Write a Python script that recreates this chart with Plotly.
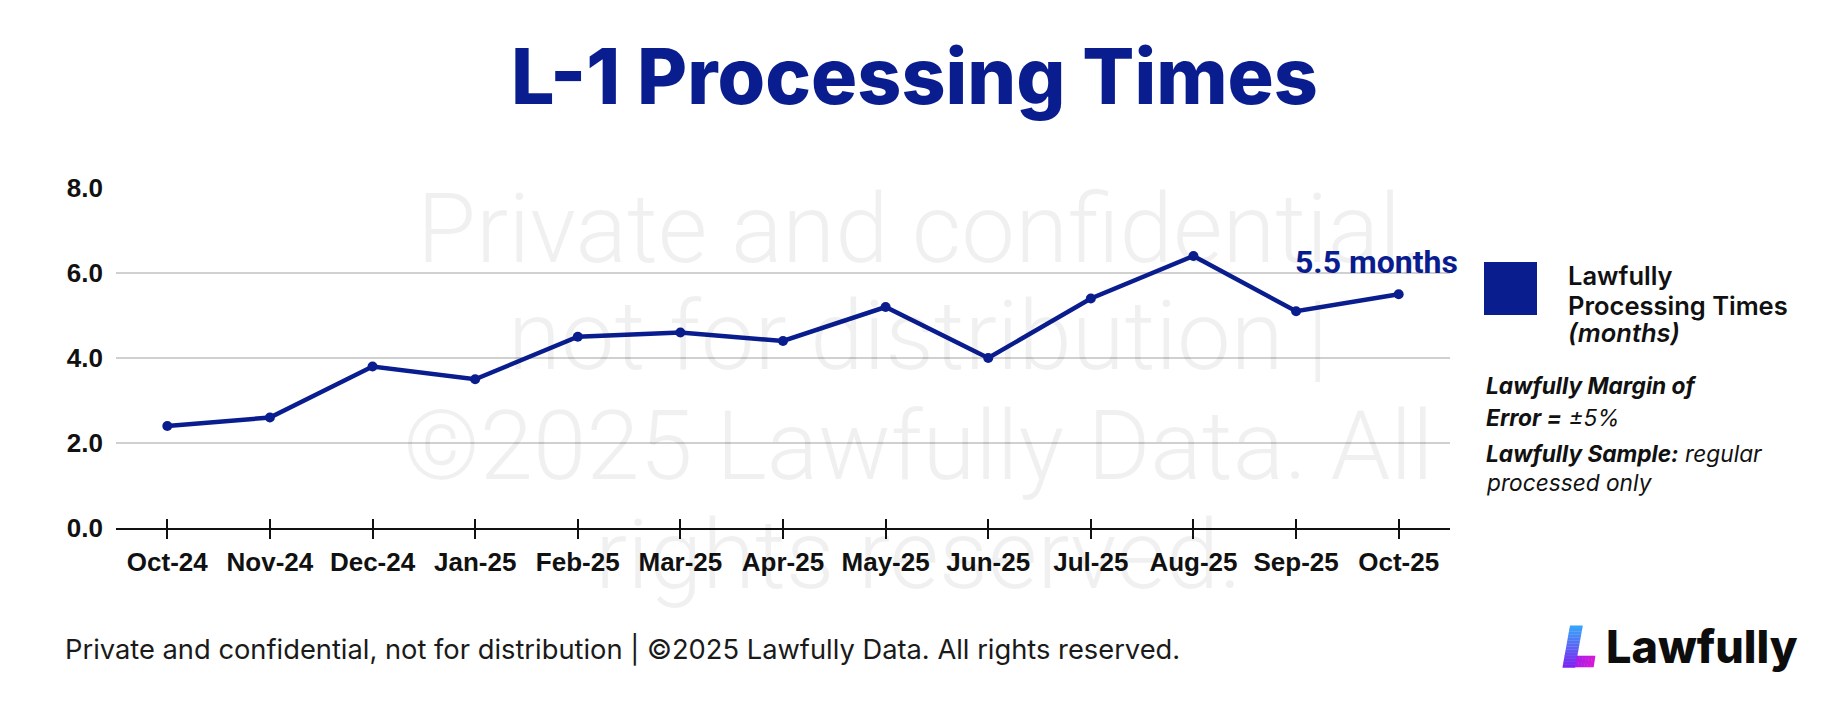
import plotly.graph_objects as go

# ---------------- data ----------------
months = ["Oct-24", "Nov-24", "Dec-24", "Jan-25", "Feb-25", "Mar-25", "Apr-25",
          "May-25", "Jun-25", "Jul-25", "Aug-25", "Sep-25", "Oct-25"]
values = [2.4, 2.6, 3.8, 3.5, 4.5, 4.6, 4.4, 5.2, 4.0, 5.4, 6.4, 5.1, 5.5]
y_ticks = [0, 2, 4, 6, 8]

title_text = "L-1 Processing Times"
last_label = "5.5 months"
legend_lines = ["Lawfully", "Processing Times", "<i>(months)</i>"]
notes = [
    "<b><i>Lawfully Margin of</i></b>",
    "<b><i>Error =</i></b> <i>±5%</i>",
    "<b><i>Lawfully Sample:</i></b> <i>regular</i>",
    "<i>processed only</i>",
]
footer_text = "Private and confidential, not for distribution | ©2025 Lawfully Data. All rights reserved."
watermark_lines = ["Private and confidential,", "not for distribution |",
                   "©2025 Lawfully Data. All", "rights reserved."]

# ---------------- layout geometry (page pixels) ----------------
OFF = 8                      # default page margin around the figure
WF, HF = 1824, 690           # figure size (fits the window with the page margin)
L, R, T, B = 116, 1450, 188, 528   # plot area in page pixels
NAVY = "#0a1d8f"
TICKFONT = dict(family="Arial, Liberation Sans, sans-serif", size=26, color="#111111", weight=700)


def px(x):
    return (x - L) / (R - L)


def py(y):
    return (B - y) / (B - T)


fig = go.Figure()
fig.add_trace(go.Scatter(
    x=months, y=values, mode="lines+markers",
    line=dict(color=NAVY, width=4.5),
    marker=dict(size=10, color=NAVY),
    cliponaxis=False, hoverinfo="skip", showlegend=False,
))
# invisible companion trace for the inside half of the crossing tick marks
fig.add_trace(go.Scatter(
    x=months, y=values, xaxis="x2", mode="markers",
    marker=dict(opacity=0), hoverinfo="skip", showlegend=False,
))

annotations = []


def ann(text, x, y, size, family, color="#111111", xanchor="left", weight=400, **kw):
    annotations.append(dict(
        text=text, x=px(x), y=py(y), xref="paper", yref="paper",
        xanchor=xanchor, yanchor="middle", showarrow=False,
        font=dict(size=size, family=family, color=color, weight=weight), **kw))


# watermark
for line, yc in zip(watermark_lines, [229, 336, 446, 555]):
    ann(line, 918, yc, 96, "Roboto", color="rgba(0,0,0,0.058)", xanchor="center", weight=300)

# title
ann(title_text, 914, 76, 77, "Inter", color=NAVY, xanchor="center", weight=800)

# legend
for line, yc in zip(legend_lines, [275, 305, 332]):
    ann(line, 1566, yc, 25.5, "Inter", weight=600)
for line, yc in zip(notes, [385, 417, 453, 482]):
    ann(line, 1484, yc, 22.7, "Inter", weight=400)

# footer
ann(footer_text, 63, 649, 27.3, "Inter", color="#1a1a1a", weight=400)

# logo text
ann("Lawfully", 1604, 646, 45, "Inter", color="#0d0d0d", weight=800)

# last value label
annotations.append(dict(
    text=last_label, x=months[-1], y=values[-1], xref="x", yref="y",
    xanchor="center", yanchor="middle", xshift=-22, yshift=32, showarrow=False,
    font=dict(size=32, family="Roboto", color=NAVY, weight=700)))

shapes = []
# legend swatch
shapes.append(dict(type="rect", xref="paper", yref="paper",
                   x0=px(1484), x1=px(1537), y0=py(315), y1=py(262),
                   fillcolor=NAVY, line=dict(width=0)))


# logo "L" icon with a stepped gradient
def lerp(c1, c2, t):
    a = [int(c1[i:i + 2], 16) for i in (1, 3, 5)]
    b = [int(c2[i:i + 2], 16) for i in (1, 3, 5)]
    return "#" + "".join(f"{round(a[k] + (b[k] - a[k]) * t):02x}" for k in range(3))


top_y, bot_y = 625.5, 667.3
slant = 7.5 / (bot_y - top_y)
n = 14
for i in range(n):
    y0 = top_y + (bot_y - top_y) * i / n
    y1 = top_y + (bot_y - top_y) * (i + 1) / n + 0.4
    xl0 = 1570 - slant * (y0 - top_y)
    xl1 = 1570 - slant * (y1 - top_y)
    w = 12.8
    path = (f"M {px(xl0)},{py(y0)} L {px(xl0 + w)},{py(y0)} "
            f"L {px(xl1 + w)},{py(y1)} L {px(xl1)},{py(y1)} Z")
    shapes.append(dict(type="path", xref="paper", yref="paper", path=path,
                       fillcolor=lerp("#38a4f8", "#7a26f0", i / (n - 1)), line=dict(width=0)))
fy0, fy1 = 655.7, 667.3
fxl0 = 1570 - slant * (fy0 - top_y) + 12.0
fxl1 = 1570 - slant * (fy1 - top_y) + 12.0
m = 6
for j in range(m):
    t0, t1 = j / m, (j + 1) / m
    xa0 = fxl0 + (1595 - fxl0) * t0
    xa1 = fxl0 + (1595 - fxl0) * t1 + 0.4
    xb0 = fxl1 + (1593.3 - fxl1) * t0
    xb1 = fxl1 + (1593.3 - fxl1) * t1 + 0.4
    path = (f"M {px(xa0)},{py(fy0)} L {px(xa1)},{py(fy0)} "
            f"L {px(xb1)},{py(fy1)} L {px(xb0)},{py(fy1)} Z")
    shapes.append(dict(type="path", xref="paper", yref="paper", path=path,
                       fillcolor=lerp("#a91ee8", "#d21ad8", j / (m - 1)), line=dict(width=0)))

fig.update_layout(
    width=WF, height=HF,
    margin=dict(l=L - OFF, r=WF - (R - OFF), t=T - OFF, b=HF - (B - OFF), pad=0),
    paper_bgcolor="white", plot_bgcolor="white",
    showlegend=False,
    xaxis=dict(
        type="category", categoryorder="array", categoryarray=months,
        range=[-0.5, len(months) - 0.5],
        showline=True, linecolor="#111111", linewidth=2,
        ticks="outside", ticklen=9, tickwidth=1.5, tickcolor="#111111",
        tickfont=TICKFONT, showgrid=False, zeroline=False, fixedrange=True,
        ticklabelstandoff=1,
    ),
    xaxis2=dict(
        type="category", categoryorder="array", categoryarray=months,
        range=[-0.5, len(months) - 0.5], overlaying="x", anchor="y", side="bottom",
        ticks="inside", ticklen=9, tickwidth=1.5, tickcolor="#111111",
        showticklabels=False, showgrid=False, showline=False, zeroline=False, fixedrange=True,
    ),
    yaxis=dict(
        range=[0, 8], tickvals=y_ticks, tickformat=".1f",
        showgrid=True, gridcolor="#d0d0d0", gridwidth=1.5,
        zeroline=False, showline=False, ticks="",
        tickfont=TICKFONT, ticklabelstandoff=12, fixedrange=True,
    ),
    annotations=annotations,
    shapes=shapes,
)

fig.write_html("out.html", config={"displayModeBar": False})
